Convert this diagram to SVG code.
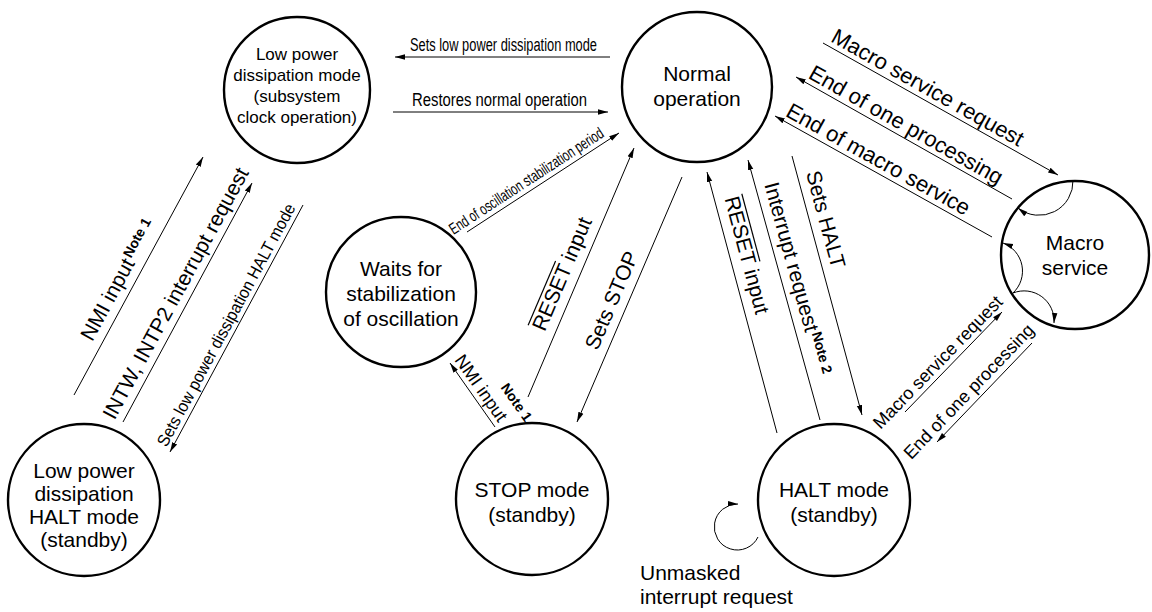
<svg xmlns="http://www.w3.org/2000/svg" width="1152" height="612" viewBox="0 0 1152 612">
<style>
.node circle{fill:#fff;stroke:#000;stroke-width:2.4}
text{font-family:"Liberation Sans",Arial,Helvetica,sans-serif;fill:#000}
.nt{font-size:21px;text-anchor:middle}
.nts{font-size:17px;text-anchor:middle}
.conn line,.conn path{stroke:#000;stroke-width:1;fill:none}
.a{marker-end:url(#ah)}
.lb{font-size:21px}
.note{font-size:14px;font-weight:bold}
.ov{stroke:#000;stroke-width:1.2}
</style>
<defs>
<marker id="ah" viewBox="0 0 10 10" refX="10" refY="5" markerWidth="10" markerHeight="10" markerUnits="userSpaceOnUse" orient="auto"><path d="M0,2.3 L10,5 L0,7.7 z" fill="#000"/></marker>
</defs>
<rect width="1152" height="612" fill="#fff"/>
<g id="node-lowpower" class="node"><circle cx="297" cy="90" r="73"/>
<text class="nts" x="297" y="60">Low power</text><text class="nts" x="297" y="81">dissipation mode</text><text class="nts" x="297" y="102">(subsystem</text><text class="nts" x="297" y="123">clock operation)</text></g>
<g id="node-normal" class="node"><circle cx="697" cy="87" r="75"/>
<text class="nt" x="697" y="81">Normal</text><text class="nt" x="697" y="106">operation</text></g>
<g id="node-macro" class="node"><circle cx="1075" cy="255" r="74"/>
<text class="nt" x="1075" y="250">Macro</text><text class="nt" x="1075" y="275">service</text></g>
<g id="node-waits" class="node"><circle cx="401" cy="292" r="75"/>
<text class="nt" x="401" y="276">Waits for</text><text class="nt" x="401" y="301">stabilization</text><text class="nt" x="401" y="326">of oscillation</text></g>
<g id="node-lphalt" class="node"><circle cx="84" cy="500" r="76"/>
<text class="nt" x="84" y="478">Low power</text><text class="nt" x="84" y="501">dissipation</text><text class="nt" x="84" y="524">HALT mode</text><text class="nt" x="84" y="547">(standby)</text></g>
<g id="node-stop" class="node"><circle cx="532" cy="499" r="76"/>
<text class="nt" x="532" y="497">STOP mode</text><text class="nt" x="532" y="522">(standby)</text></g>
<g id="node-halt" class="node"><circle cx="834" cy="500" r="76"/>
<text class="nt" x="834" y="497">HALT mode</text><text class="nt" x="834" y="522">(standby)</text></g>
<g id="connectors" class="conn">
<line x1="610" y1="57" x2="395" y2="57" class="a"/>
<line x1="393" y1="112" x2="608" y2="112" class="a"/>
<line x1="467" y1="232" x2="619" y2="133" class="a"/>
<line x1="528" y1="397" x2="634" y2="148" class="a"/>
<line x1="495" y1="427" x2="450" y2="363" class="a"/>
<line x1="682" y1="177" x2="577" y2="422" class="a"/>
<line x1="777" y1="433" x2="707" y2="172" class="a"/>
<line x1="820" y1="420" x2="748" y2="160" class="a"/>
<line x1="792" y1="156" x2="862" y2="415" class="a"/>
<line x1="905" y1="412" x2="1002" y2="312" class="a"/>
<line x1="1032" y1="343" x2="937" y2="442" class="a"/>
<line x1="74" y1="395" x2="203" y2="157" class="a"/>
<line x1="123" y1="422" x2="252" y2="183" class="a"/>
<line x1="303" y1="205" x2="170" y2="452" class="a"/>
<line x1="823" y1="43" x2="1058" y2="175" class="a"/>
<line x1="1012" y1="199" x2="796" y2="77" class="a"/>
<line x1="992" y1="237" x2="775" y2="116" class="a"/>
<path d="M1073,180 A34,34 0 0 1 1018,208" class="a"/>
<path d="M1013,293 A30,30 0 0 0 1003,243" class="a"/>
<path d="M1013,293 A30,30 0 0 1 1054,323" class="a"/>
<path d="M758,537 A23,23 0 1 1 738,504" class="a"/>
</g>
<g id="labels">
<text x="410" y="51" font-size="18" textLength="187" lengthAdjust="spacingAndGlyphs">Sets low power dissipation mode</text>
<text x="412" y="106" font-size="18" textLength="175" lengthAdjust="spacingAndGlyphs">Restores normal operation</text>
<text transform="translate(467,232) rotate(-33.1)" x="-13" y="-5" font-size="16" textLength="181" lengthAdjust="spacingAndGlyphs">End of oscillation stabilization period</text>
<g transform="translate(528,397) rotate(-66.9)"><text x="66" y="-10" class="lb">RESET input</text><line x1="66" y1="-28" x2="136" y2="-28" class="ov"/></g>
<g transform="translate(450,363) rotate(54.9)"><text x="0" y="-5" font-size="18">NMI input</text><text x="49" y="-27" class="note">Note 1</text></g>
<text transform="translate(577,422) rotate(-66.8)" x="73" y="-9" class="lb">Sets STOP</text>
<g transform="translate(707,172) rotate(75)"><text x="30" y="-10" class="lb">RESET input</text><line x1="30" y1="-28" x2="100" y2="-28" class="ov"/></g>
<g transform="translate(748,160) rotate(74.5)"><text x="28" y="-9" class="lb">Interrupt request</text><text x="184" y="-15" class="note">Note 2</text></g>
<text transform="translate(792,156) rotate(74.9)" x="20" y="-9" class="lb">Sets HALT</text>
<text transform="translate(905,412) rotate(-45.9)" x="-30" y="-5" font-size="18">Macro service request</text>
<text transform="translate(937,442) rotate(-46.2)" x="-31" y="-6" font-size="18">End of one processing</text>
<g transform="translate(74,395) rotate(-61.5)"><text x="55" y="-9" class="lb">NMI input</text><text x="147" y="-15" class="note">Note 1</text></g>
<text transform="translate(123,422) rotate(-61.5)" x="-3" y="-8" class="lb">INTW, INTP2 interrupt request</text>
<text transform="translate(170,452) rotate(-61.7)" x="2" y="-5" font-size="17" textLength="273" lengthAdjust="spacingAndGlyphs">Sets low power dissipation HALT mode</text>
<text transform="translate(823,43) rotate(29.3)" x="5" y="-5" font-size="22">Macro service request</text>
<text transform="translate(796,77) rotate(29.5)" x="10" y="-5" font-size="22">End of one processing</text>
<text transform="translate(775,116) rotate(29.1)" x="8" y="-5" font-size="22">End of macro service</text>
<text x="640" y="580" class="lb">Unmasked</text>
<text x="640" y="604" class="lb">interrupt request</text>
</g>
</svg>
